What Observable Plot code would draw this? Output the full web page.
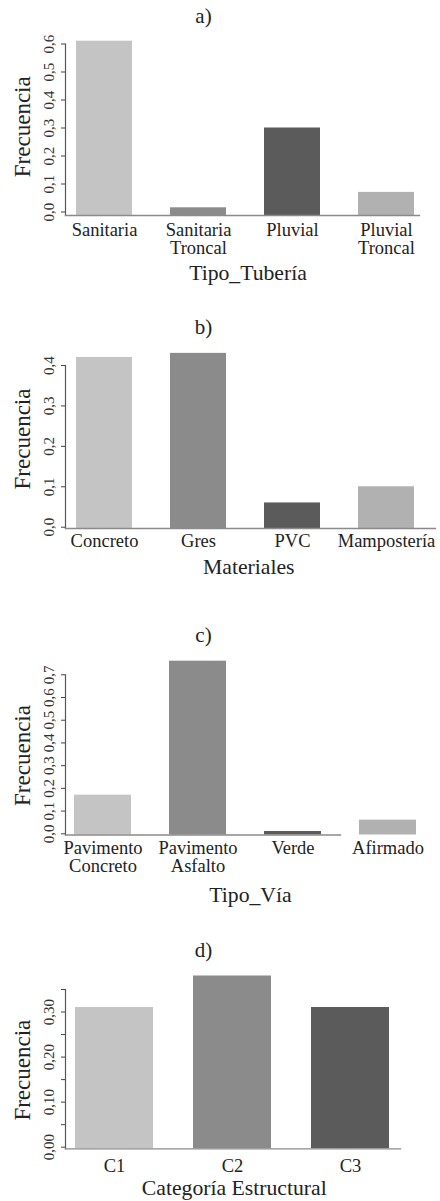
<!DOCTYPE html>
<html>
<head>
<meta charset="utf-8">
<script src="https://cdn.jsdelivr.net/npm/d3@7"></script>
<script src="https://cdn.jsdelivr.net/npm/@observablehq/plot@0.6"></script>
<style>
  body { margin: 0; background: #fff; width: 440px; }
  svg { display: block; }
</style>
</head>
<body>
<div id="chart"></div>
<script>
// ---- Data ----
const tuberiaCats = ["Sanitaria", "Sanitaria Troncal", "Pluvial", "Pluvial Troncal"];
const tuberiaFreq = [0.61, 0.015, 0.30, 0.07];

const materialCats = ["Concreto", "Gres", "PVC", "Mampostería"];
const materialFreq = [0.42, 0.43, 0.06, 0.10];

const viaCats = ["Pavimento Concreto", "Pavimento Asfalto", "Verde", "Afirmado"];
const viaFreq = [0.17, 0.76, 0.01, 0.06];

const catCats = ["C1", "C2", "C3"];
const catFreq = [0.31, 0.38, 0.31];

const ticksA = [0, 0.1, 0.2, 0.3, 0.4, 0.5, 0.6];
const ticksB = [0, 0.1, 0.2, 0.3, 0.4];
const ticksC = [0, 0.1, 0.2, 0.3, 0.4, 0.5, 0.6, 0.7];
const ticksD = [0, 0.05, 0.10, 0.15, 0.20, 0.25, 0.30, 0.35];
const labeledTicksD = [0, 0.10, 0.20, 0.30];

const grays4 = ["#c4c4c4", "#8b8b8b", "#5b5b5b", "#b1b1b1"];
const grays3 = ["#c4c4c4", "#8b8b8b", "#5b5b5b"];

const fmt1 = d => d.toFixed(1).replace(".", ",");
const fmtD = d => labeledTicksD.some(t => Math.abs(t - d) < 1e-9) ? d.toFixed(2).replace(".", ",") : "";

const FONT = "'Liberation Serif', 'Times New Roman', serif";
const W = 440, ML = 65;

function panel(cfg) {
  const data = cfg.cats.map((c, i) => ({cat: c, freq: cfg.freq[i], color: cfg.colors[i]}));
  const topTick = cfg.ticks[cfg.ticks.length - 1];
  const mb = cfg.height - cfg.axisLine;
  return Plot.plot({
    width: W,
    height: cfg.height,
    marginLeft: ML,
    marginRight: W - cfg.xEnd,
    marginTop: cfg.yTop,
    marginBottom: mb,
    style: {fontFamily: FONT, background: "#fff", color: "#222"},
    x: {type: "band", domain: cfg.cats, range: cfg.xRange, paddingInner: cfg.padInner, paddingOuter: 0, align: 0.5},
    y: {domain: [0, topTick], range: [cfg.yZero, cfg.yTop]},
    color: {type: "identity"},
    marks: [
      Plot.barY(data, {x: "cat", y: "freq", fill: "color", insetBottom: -(cfg.axisLine - cfg.yZero)}),
      Plot.frame({anchor: "left", stroke: "#555", strokeWidth: 1.2}),
      Plot.frame({anchor: "bottom", stroke: "#8a8a8a", strokeWidth: 1.3}),
      Plot.axisY({ticks: cfg.ticks, tickFormat: cfg.fmt, tickSize: 4, tickPadding: 8, tickRotate: -90,
                  fontSize: 15, fill: "#333", stroke: "#444", label: null}),
      Plot.axisX({tickSize: 0, tickPadding: cfg.labelPad, fontSize: 18.5, lineHeight: 1, fill: "#222",
                  tickFormat: d => d.replace(" ", "\n"), label: null}),
      Plot.text([cfg.title], {frameAnchor: "top-left", dx: 203 - ML, dy: cfg.titleBaseline - cfg.yTop,
                              lineAnchor: "bottom", textAnchor: "middle", fontSize: 21, fill: "#222"}),
      Plot.text(["Frecuencia"], {frameAnchor: "left", dx: 22 - ML, dy: cfg.yLabelDy, rotate: -90,
                                 lineAnchor: "middle", textAnchor: "middle", fontSize: 23, fill: "#222"}),
      Plot.text([cfg.xTitle], {frameAnchor: "bottom-left", dx: cfg.xTitleX - ML, dy: cfg.xTitleBaseline - cfg.axisLine,
                               lineAnchor: "bottom", textAnchor: "middle", fontSize: 21.7, fill: "#222"})
    ]
  });
}

const root = document.getElementById("chart");

root.append(panel({
  title: "a)", cats: tuberiaCats, freq: tuberiaFreq, colors: grays4, xTitle: "Tipo_Tubería",
  ticks: ticksA, fmt: fmt1, height: 300, titleBaseline: 22, yZero: 211.5, yTop: 43.5, axisLine: 215,
  xEnd: 419, xRange: [74, 415.5], padInner: 0.4, labelPad: 6.9,
  xTitleX: 247.5, xTitleBaseline: 279, yLabelDy: -3
}));

root.append(panel({
  title: "b)", cats: materialCats, freq: materialFreq, colors: grays4, xTitle: "Materiales",
  ticks: ticksB, fmt: fmt1, height: 290, titleBaseline: 33, yZero: 226.7, yTop: 65, axisLine: 228,
  xEnd: 435, xRange: [74, 415.5], padInner: 0.4, labelPad: 5.6,
  xTitleX: 248.3, xTitleBaseline: 273.3, yLabelDy: -8
}));

root.append(panel({
  title: "c)", cats: viaCats, freq: viaFreq, colors: grays4, xTitle: "Tipo_Vía",
  ticks: ticksC, fmt: fmt1, height: 320, titleBaseline: 51, yZero: 243.3, yTop: 84.3, axisLine: 244.5,
  xEnd: 340, xRange: [74, 416.5], padInner: 0.4, labelPad: 5.7,
  xTitleX: 250, xTitleBaseline: 311.7, yLabelDy: 0.6
}));

root.append(panel({
  title: "d)", cats: catCats, freq: catFreq, colors: grays3, xTitle: "Categoría Estructural",
  ticks: ticksD, fmt: fmtD, height: 291, titleBaseline: 46, yZero: 236.7, yTop: 79, axisLine: 238.3,
  xEnd: 400, xRange: [75, 389], padInner: 0.34, labelPad: 10.3,
  xTitleX: 233.8, xTitleBaseline: 284.5, yLabelDy: 1
}));
</script>
</body>
</html>
